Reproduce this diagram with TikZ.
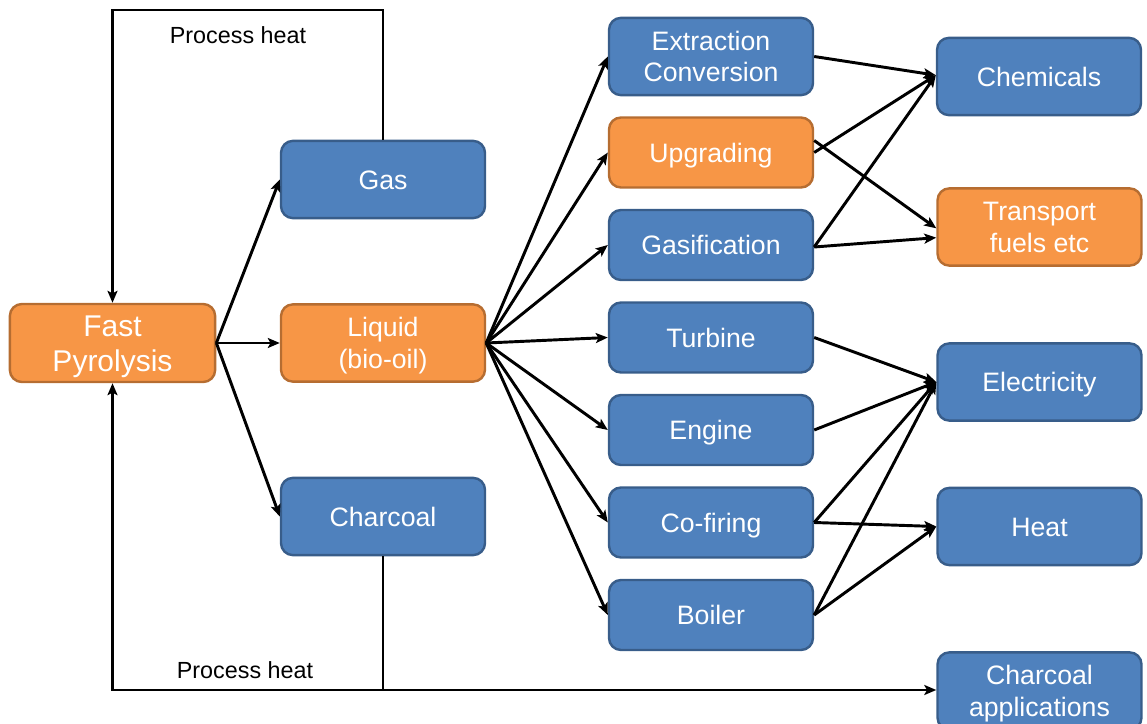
\documentclass[tikz,border=0pt]{standalone}
\usepackage{fontspec}
\setmainfont{Liberation Sans}
\usetikzlibrary{arrows.meta,calc}
\definecolor{bfill}{HTML}{4F81BD}
\definecolor{bline}{HTML}{385D8A}
\definecolor{ofill}{HTML}{F79646}
\definecolor{oline}{HTML}{B66D31}
\newcommand\cs{\rule[-0.225em]{0pt}{1.166em}}
\tikzset{
  box/.style={rectangle, rounded corners=9pt, line width=1.8pt, text=white, align=center,
    inner sep=0pt, font=\fontsize{20}{23.5}\selectfont},
  bluebox/.style={box, fill=bfill, draw=bline},
  orangebox/.style={box, fill=ofill, draw=oline},
  big/.style={minimum width=153pt, minimum height=58pt},
  small/.style={minimum width=153pt, minimum height=52.5pt},
  arr/.style={-{Stealth[length=9pt,width=7.5pt,inset=2pt]}, line width=2.2pt, black},
  lbl/.style={font=\fontsize{17.5}{20}\selectfont, text=black}
}
\begin{document}
\begin{tikzpicture}[x=0.75pt,y=-0.75pt]
\useasboundingbox (0,0) rectangle (1147,724);
% left column
\node[orangebox, minimum width=154pt, minimum height=58.5pt, font=\fontsize{22.5}{26.3}\selectfont] (fp) at (112.5,343) {\cs Fast\\\cs Pyrolysis};
\node[bluebox, big] (gas) at (383,179.5) {\cs Gas};
\node[orangebox, big] (liq) at (383,343) {\cs Liquid\\\cs (bio-oil)};
\node[bluebox, big] (char) at (383,516.5) {\cs Charcoal};
% middle column
\node[bluebox, big] (ext) at (711,56.5) {\cs Extraction\\\cs Conversion};
\node[orangebox, small] (upg) at (711,152.5) {\cs Upgrading};
\node[bluebox, small] (gsf) at (711,245) {\cs Gasification};
\node[bluebox, small] (tur) at (711,337.5) {\cs Turbine};
\node[bluebox, small] (eng) at (711,430) {\cs Engine};
\node[bluebox, small] (cof) at (711,522.5) {\cs Co-firing};
\node[bluebox, small] (boi) at (711,615) {\cs Boiler};
% right column
\node[bluebox, big] (chem) at (1039,76.5) {\cs Chemicals};
\node[orangebox, big] (tra) at (1039.5,227) {\cs Transport\\\cs fuels etc};
\node[bluebox, big] (ele) at (1039.5,382) {\cs Electricity};
\node[bluebox, big] (heat) at (1039.5,526.5) {\cs Heat};
\node[bluebox, big] (capp) at (1039.5,691) {\cs Charcoal\\\cs applications};
% process heat loops
\coordinate (tl) at (112.5,10);
\coordinate (bl) at (112.5,690);
\draw[arr] (gas.north) |- (tl) -- (fp.north);
\draw[arr] (char.south) |- (bl) -- (fp.south);
\draw[arr] (char.south |- bl) -- (capp.west |- bl);
\node[lbl] (ph1) at (238,35) {Process heat};
\node[lbl] (ph2) at (245,670) {Process heat};
% from fast pyrolysis
\draw[arr] (fp.east) -- (gas.west);
\draw[arr] (fp.east) -- (liq.west);
\draw[arr] (fp.east) -- (char.west);
% from liquid
\foreach \t in {ext,upg,gsf,tur,eng,cof,boi}
  \draw[arr] (liq.east) -- (\t.west);
% to right column
\draw[arr] (ext.east) -- ([yshift=1pt]chem.west);
\draw[arr] (upg.east) -- ([yshift=1pt]chem.west);
\draw[arr] ([yshift=9pt]upg.east) -- ([yshift=-1pt]tra.west);
\draw[arr] ([yshift=-1.5pt]gsf.east) -- ([yshift=1pt]chem.west);
\draw[arr] ([yshift=-1.5pt]gsf.east) -- ([yshift=-8pt]tra.west);
\draw[arr] (tur.east) -- (ele.west);
\draw[arr] (eng.east) -- (ele.west);
\draw[arr] (cof.east) -- (ele.west);
\draw[arr] (cof.east) -- (heat.west);
\draw[arr] (boi.east) -- (ele.west);
\draw[arr] (boi.east) -- (heat.west);
\end{tikzpicture}
\end{document}
